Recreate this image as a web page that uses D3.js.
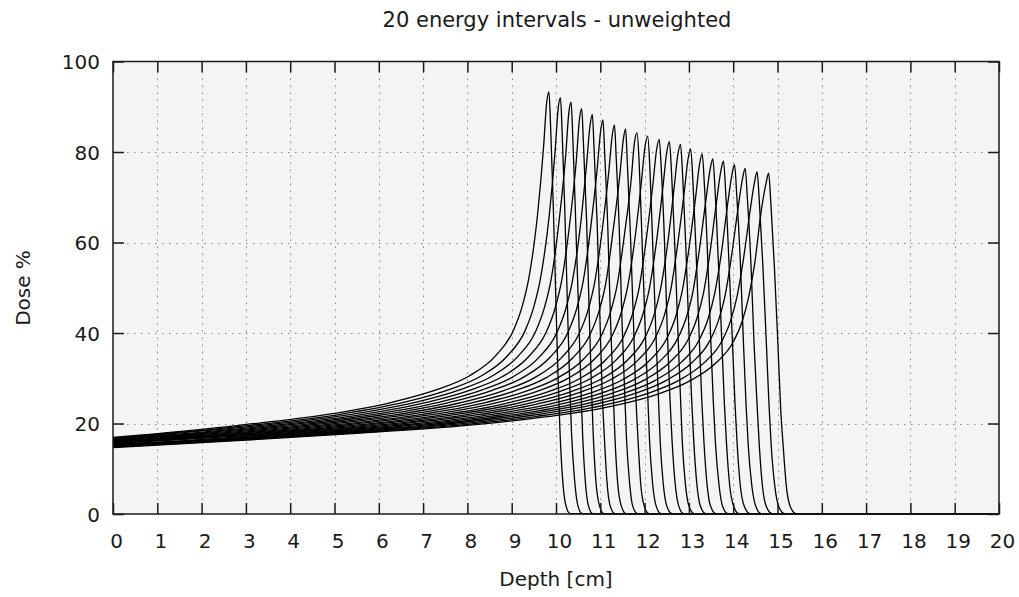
<!DOCTYPE html>
<html><head><meta charset="utf-8">
<script src="https://cdn.jsdelivr.net/npm/d3@7"></script>
<style>
body{margin:0;background:#fff}
svg{display:block}
text{font-family:"DejaVu Sans",sans-serif;fill:#1a1a1a}
</style>
</head><body>
<svg id="chart" width="1019" height="597"></svg>
<script>
const titleText = "20 energy intervals - unweighted";
const xLabel = "Depth [cm]";
const yLabel = "Dose %";
const xTicks = [0,1,2,3,4,5,6,7,8,9,10,11,12,13,14,15,16,17,18,19,20];
const yTicks = [0,20,40,60,80,100];

// one depth-dose curve per energy interval: [depth cm, dose %]
const curve01 = [[0,16.9],[2.84,19.6],[4.84,22.0],[6.34,24.8],[7.34,27.6],[8.04,30.5],[8.64,35.0],[9.04,40.6],[9.24,46.0],[9.39,52.3],[9.59,66.8],[9.72,81.2],[9.79,91.0],[9.84,93.3],[9.88,85.2],[9.94,67.6],[10.00,46.2],[10.05,29.3],[10.09,18.3],[10.15,7.6],[10.22,2.0],[10.32,0.1],[20,0]];
const curve02 = [[0,16.79],[3.10,19.59],[5.10,21.98],[6.60,24.76],[7.60,27.55],[8.30,30.44],[8.90,34.92],[9.30,40.47],[9.50,45.83],[9.65,52.09],[9.85,66.21],[9.98,80.2],[10.05,89.7],[10.10,92.0],[10.14,84.0],[10.20,66.7],[10.26,45.5],[10.31,28.9],[10.35,18.0],[10.42,7.5],[10.49,2.0],[10.59,0.1],[20,0]];
const curve03 = [[0,16.68],[0.84,17.34],[3.34,19.58],[5.34,21.95],[6.84,24.71],[7.84,27.49],[8.54,30.38],[9.14,34.83],[9.54,40.34],[9.74,45.65],[9.89,51.87],[10.08,65.62],[10.22,79.4],[10.29,88.7],[10.34,91.0],[10.38,83.1],[10.44,66.0],[10.51,45.0],[10.56,28.6],[10.60,17.8],[10.66,7.4],[10.73,1.9],[10.83,0.1],[20,0]];
const curve04 = [[0,16.57],[1.08,17.36],[3.58,19.57],[5.58,21.93],[7.08,24.67],[8.08,27.44],[8.78,30.32],[9.38,34.75],[9.78,40.21],[9.98,45.48],[10.13,51.66],[10.32,65.03],[10.46,78.3],[10.53,87.3],[10.58,89.6],[10.62,81.8],[10.69,65.0],[10.75,44.4],[10.80,28.1],[10.84,17.6],[10.90,7.3],[10.98,1.9],[11.08,0.1],[20,0]];
const curve05 = [[0,16.46],[1.32,17.38],[3.82,19.56],[5.82,21.90],[7.32,24.62],[8.32,27.38],[9.02,30.26],[9.62,34.66],[10.02,40.08],[10.22,45.30],[10.37,51.44],[10.56,64.44],[10.69,77.3],[10.77,86.0],[10.82,88.3],[10.86,80.6],[10.93,64.0],[10.99,43.7],[11.04,27.7],[11.09,17.3],[11.15,7.2],[11.22,1.9],[11.33,0.1],[20,0]];
const curve06 = [[0,16.35],[1.56,17.4],[4.06,19.55],[6.06,21.88],[7.56,24.58],[8.56,27.33],[9.26,30.20],[9.86,34.58],[10.26,39.95],[10.46,45.13],[10.61,51.23],[10.79,63.85],[10.93,76.3],[11.01,84.8],[11.06,87.1],[11.10,79.5],[11.17,63.1],[11.23,43.1],[11.29,27.3],[11.33,17.1],[11.39,7.1],[11.47,1.9],[11.58,0.1],[20,0]];
const curve07 = [[0,16.24],[1.82,17.42],[4.32,19.54],[6.32,21.85],[7.82,24.53],[8.82,27.27],[9.52,30.14],[10.12,34.49],[10.52,39.82],[10.72,44.95],[10.87,51.01],[11.05,63.26],[11.19,75.5],[11.27,83.7],[11.32,86.0],[11.36,78.5],[11.43,62.4],[11.49,42.6],[11.55,27.0],[11.59,16.9],[11.66,7.0],[11.73,1.8],[11.84,0.1],[20,0]];
const curve08 = [[0,16.13],[2.07,17.44],[4.57,19.53],[6.57,21.83],[8.07,24.49],[9.07,27.22],[9.77,30.08],[10.37,34.41],[10.77,39.69],[10.97,44.78],[11.12,50.80],[11.29,62.67],[11.44,74.8],[11.52,82.8],[11.57,85.1],[11.61,77.7],[11.68,61.7],[11.75,42.1],[11.80,26.7],[11.85,16.7],[11.91,6.9],[11.99,1.8],[12.10,0.1],[20,0]];
const curve09 = [[0,16.02],[2.33,17.46],[4.83,19.52],[6.83,21.80],[8.33,24.44],[9.33,27.16],[10.03,30.02],[10.63,34.32],[11.03,39.56],[11.23,44.60],[11.38,50.58],[11.55,62.08],[11.70,74.2],[11.77,82.0],[11.83,84.3],[11.88,77.0],[11.94,61.1],[12.01,41.7],[12.07,26.5],[12.11,16.5],[12.18,6.8],[12.26,1.8],[12.37,0.1],[20,0]];
const curve10 = [[0,15.91],[2.57,17.48],[5.07,19.51],[7.07,21.78],[8.57,24.40],[9.57,27.11],[10.27,29.96],[10.87,34.24],[11.27,39.43],[11.47,44.43],[11.62,50.37],[11.79,61.49],[11.93,73.6],[12.01,81.2],[12.07,83.5],[12.12,76.2],[12.18,60.5],[12.25,41.3],[12.31,26.2],[12.35,16.4],[12.42,6.8],[12.50,1.8],[12.62,0.1],[20,0]];
const curve11 = [[0,15.8],[2.83,17.5],[5.33,19.50],[7.33,21.75],[8.83,24.35],[9.83,27.05],[10.53,29.90],[11.13,34.15],[11.53,39.30],[11.73,44.25],[11.88,50.15],[12.04,60.90],[12.19,73.1],[12.27,80.5],[12.33,82.8],[12.38,75.6],[12.45,60.0],[12.51,41.0],[12.57,26.0],[12.62,16.2],[12.69,6.7],[12.77,1.8],[12.88,0.1],[20,0]];
const curve12 = [[0,15.69],[3.06,17.52],[5.56,19.49],[7.56,21.73],[9.06,24.31],[10.06,27.00],[10.76,29.84],[11.36,34.07],[11.76,39.17],[11.96,44.08],[12.11,49.94],[12.27,60.31],[12.42,72.8],[12.50,80.0],[12.56,82.3],[12.61,75.1],[12.68,59.7],[12.75,40.7],[12.81,25.8],[12.85,16.1],[12.92,6.7],[13.00,1.8],[13.12,0.1],[20,0]];
const curve13 = [[0,15.58],[3.31,17.54],[5.81,19.48],[7.81,21.70],[9.31,24.26],[10.31,26.94],[11.01,29.78],[11.61,33.98],[12.01,39.04],[12.21,43.90],[12.36,49.72],[12.52,59.72],[12.67,72.4],[12.75,79.4],[12.81,81.7],[12.86,74.6],[12.93,59.2],[13.00,40.4],[13.06,25.7],[13.11,16.0],[13.18,6.6],[13.26,1.7],[13.38,0.1],[20,0]];
const curve14 = [[0,15.47],[1.04,15.89],[3.54,17.56],[6.04,19.47],[8.04,21.68],[9.54,24.22],[10.54,26.89],[11.24,29.72],[11.84,33.90],[12.24,38.91],[12.44,43.73],[12.59,49.51],[12.74,59.13],[12.90,71.6],[12.98,78.4],[13.04,80.7],[13.09,73.7],[13.16,58.5],[13.23,39.9],[13.29,25.3],[13.34,15.8],[13.41,6.5],[13.49,1.7],[13.61,0.1],[20,0]];
const curve15 = [[0,15.36],[1.30,15.93],[3.80,17.58],[6.30,19.46],[8.30,21.65],[9.80,24.17],[10.80,26.83],[11.50,29.66],[12.10,33.81],[12.50,38.78],[12.70,43.55],[12.85,49.29],[13.00,58.54],[13.16,70.7],[13.24,77.3],[13.30,79.6],[13.35,72.7],[13.42,57.7],[13.49,39.4],[13.55,25.0],[13.60,15.6],[13.68,6.4],[13.76,1.7],[13.88,0.1],[20,0]];
const curve16 = [[0,15.25],[1.54,15.98],[4.04,17.6],[6.54,19.45],[8.54,21.63],[10.04,24.13],[11.04,26.78],[11.74,29.60],[12.34,33.73],[12.74,38.65],[12.94,43.38],[13.09,49.08],[13.23,57.95],[13.39,69.8],[13.48,76.2],[13.54,78.5],[13.59,71.7],[13.66,56.9],[13.74,38.9],[13.80,24.6],[13.85,15.4],[13.92,6.4],[14.01,1.7],[14.13,0.1],[20,0]];
const curve17 = [[0,15.14],[1.78,16.02],[4.28,17.62],[6.78,19.44],[8.78,21.60],[10.28,24.08],[11.28,26.72],[11.98,29.54],[12.58,33.64],[12.98,38.52],[13.18,43.20],[13.33,48.86],[13.47,57.36],[13.63,69.5],[13.72,75.7],[13.78,78.0],[13.83,71.2],[13.90,56.6],[13.98,38.6],[14.04,24.5],[14.09,15.3],[14.16,6.3],[14.25,1.7],[14.38,0.1],[20,0]];
const curve18 = [[0,15.03],[2.03,16.07],[4.53,17.64],[7.03,19.43],[9.03,21.58],[10.53,24.04],[11.53,26.67],[12.23,29.48],[12.83,33.56],[13.23,38.39],[13.43,43.03],[13.58,48.65],[13.72,56.77],[13.88,68.9],[13.97,74.9],[14.03,77.2],[14.08,70.5],[14.16,56.0],[14.23,38.2],[14.29,24.2],[14.34,15.1],[14.42,6.3],[14.51,1.7],[14.63,0.1],[20,0]];
const curve19 = [[0,14.92],[2.27,16.11],[4.77,17.66],[7.27,19.42],[9.27,21.55],[10.77,23.99],[11.77,26.61],[12.47,29.42],[13.07,33.47],[13.47,38.26],[13.67,42.85],[13.82,48.43],[13.95,56.18],[14.12,68.3],[14.21,74.1],[14.27,76.4],[14.32,69.8],[14.40,55.4],[14.47,37.8],[14.54,24.0],[14.59,15.0],[14.66,6.2],[14.75,1.6],[14.88,0.1],[20,0]];
const curve20 = [[0,14.81],[2.54,16.16],[5.04,17.68],[7.54,19.41],[9.54,21.53],[11.04,23.95],[12.04,26.56],[12.74,29.36],[13.34,33.39],[13.74,38.13],[13.94,42.68],[14.09,48.22],[14.22,55.59],[14.39,67.6],[14.48,73.3],[14.54,75.6],[14.59,69.0],[14.67,54.8],[14.75,37.4],[14.81,23.7],[14.86,14.8],[14.94,6.1],[15.03,1.6],[15.16,0.1],[20,0]];
const curve21 = [[0,14.7],[2.80,16.2],[5.30,17.7],[7.80,19.4],[9.80,21.5],[11.30,23.9],[12.30,26.5],[13.00,29.3],[13.60,33.3],[14.00,38.0],[14.20,42.5],[14.35,48.0],[14.48,55.0],[14.64,67.5],[14.74,73.0],[14.80,75.3],[14.85,68.7],[14.93,54.6],[15.01,37.3],[15.07,23.6],[15.13,14.8],[15.20,6.1],[15.29,1.6],[15.42,0.1],[20,0]];

const curves = [curve01,curve02,curve03,curve04,curve05,curve06,curve07,curve08,curve09,curve10,
  curve11,curve12,curve13,curve14,curve15,curve16,curve17,curve18,curve19,curve20,curve21];

const svg = d3.select("#chart");
const L = 113, R = 999, T = 61.5, B = 514;
const x = d3.scaleLinear().domain([0, 20]).range([L, R]);
const y = d3.scaleLinear().domain([0, 100]).range([B, T]);

svg.append("rect").attr("x", L).attr("y", T).attr("width", R - L).attr("height", B - T).attr("fill", "#f4f4f4");

// grid
const grid = svg.append("g").attr("stroke", "#8e8e8e").attr("stroke-width", 1).attr("stroke-dasharray", "1.6,5.4");
grid.selectAll("line.gx").data(xTicks.filter(d => d > 0 && d < 20)).join("line")
  .attr("x1", d => Math.round(x(d)) + 0.5).attr("x2", d => Math.round(x(d)) + 0.5)
  .attr("y1", B).attr("y2", T);
grid.selectAll("line.gy").data(yTicks.filter(d => d > 0 && d < 100)).join("line")
  .attr("y1", d => Math.round(y(d)) + 0.5).attr("y2", d => Math.round(y(d)) + 0.5)
  .attr("x1", L).attr("x2", R);

// curves
const line = d3.line().x(d => x(d[0])).y(d => y(d[1])).curve(d3.curveMonotoneX);
svg.append("g").selectAll("path").data(curves).join("path")
  .attr("d", line).attr("fill", "none").attr("stroke", "#000").attr("stroke-width", 1.3);

// axes with inward ticks
function styleAxis(g) {
  g.select(".domain").remove();
  g.selectAll(".tick line").attr("stroke", "#1a1a1a").attr("stroke-width", 1.5);
  g.selectAll("text").attr("font-size", 20).attr("font-family", "DejaVu Sans, sans-serif").attr("fill", "#1a1a1a");
}
const gx = svg.append("g").attr("transform", `translate(0,${B})`)
  .call(d3.axisBottom(x).tickValues(xTicks).tickSize(-11).tickFormat(d3.format("d")));
styleAxis(gx);
gx.selectAll("text").attr("y", 20).attr("dy", "0.71em").attr("dx", 3);

const gy = svg.append("g").attr("transform", `translate(${L},0)`)
  .call(d3.axisLeft(y).tickValues(yTicks).tickSize(-11).tickFormat(d3.format("d")));
styleAxis(gy);
gy.selectAll("text").attr("x", -13).attr("dy", "0.36em");

const gt = svg.append("g").attr("transform", `translate(0,${T})`)
  .call(d3.axisTop(x).tickValues(xTicks).tickSize(-11).tickFormat(""));
styleAxis(gt);
const gr = svg.append("g").attr("transform", `translate(${R},0)`)
  .call(d3.axisRight(y).tickValues(yTicks).tickSize(-11).tickFormat(""));
styleAxis(gr);

// border
svg.append("rect").attr("x", L).attr("y", T).attr("width", R - L).attr("height", B - T)
  .attr("fill", "none").attr("stroke", "#1a1a1a").attr("stroke-width", 1.5);

// titles
svg.append("text").attr("x", 557).attr("y", 27).attr("text-anchor", "middle").attr("font-size", 21).text(titleText);
svg.append("text").attr("x", 556).attr("y", 586).attr("text-anchor", "middle").attr("font-size", 20).text(xLabel);
svg.append("text").attr("transform", "translate(30,288) rotate(-90)").attr("text-anchor", "middle").attr("font-size", 20).text(yLabel);
</script>
</body></html>
